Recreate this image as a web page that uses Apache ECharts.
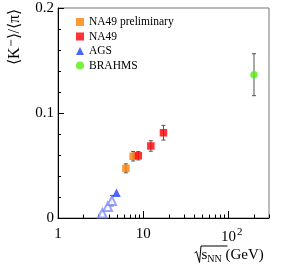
<!DOCTYPE html>
<html>
<head>
<meta charset="utf-8">
<script src="https://cdn.jsdelivr.net/npm/echarts@6/dist/echarts.min.js"></script>
<style>
html,body{margin:0;padding:0;background:#fff;}
#c{width:291px;height:273px;}
</style>
</head>
<body>
<div id="c"></div>
<script>
// ---- data ----
const na49PrelimX = [6.27, 7.62];
const na49PrelimY = [0.0473, 0.0588];
const na49PrelimErr = [0.0043, 0.0045];

const na49X = [8.77, 12.3, 17.3];
const na49Y = [0.0593, 0.0686, 0.0812];
const na49Err = [0.004, 0.005, 0.007];

const agsX = [4.86];
const agsY = [0.024];

const agsOpenX = [3.32, 3.84, 4.29];
const agsOpenY = [0.0045, 0.0108, 0.0165];
const agsOpenErr = [0, 0, 0.005];

const brahmsX = [200];
const brahmsY = [0.1365];
const brahmsErr = [0.02];

const xMajorTicks = [1, 10, 100];
const xMinorTicks = [2, 3, 4, 5, 6, 7, 8, 9, 20, 30, 40, 50, 60, 70, 80, 90, 200, 300];
const yTicks = [0, 0.1, 0.2];

const pts = (xs, ys) => xs.map((x, i) => [x, ys[i]]);
const errs = (xs, ys, es) => xs.map((x, i) => [x, ys[i] - es[i], ys[i] + es[i]]).filter((d, i) => es[i] > 0);

const FONT = 'Liberation Serif';

function errRender(capW) {
  return function (params, api) {
    const x = api.value(0), lo = api.value(1), hi = api.value(2);
    const p1 = api.coord([x, lo]);
    const p2 = api.coord([x, hi]);
    const st = { stroke: '#555', lineWidth: 1 };
    return {
      type: 'group',
      children: [
        { type: 'line', shape: { x1: p1[0], y1: p1[1], x2: p2[0], y2: p2[1] }, style: st },
        { type: 'line', shape: { x1: p1[0] - capW, y1: p1[1], x2: p1[0] + capW, y2: p1[1] }, style: st },
        { type: 'line', shape: { x1: p2[0] - capW, y1: p2[1], x2: p2[0] + capW, y2: p2[1] }, style: st }
      ]
    };
  };
}

const chart = echarts.init(document.getElementById('c'), null, { renderer: 'canvas' });

const allErr = []
  .concat(errs(na49PrelimX, na49PrelimY, na49PrelimErr))
  .concat(errs(na49X, na49Y, na49Err))
  .concat(errs(agsOpenX, agsOpenY, agsOpenErr))
  .concat(errs(brahmsX, brahmsY, brahmsErr));

chart.setOption({
  animation: false,
  textStyle: { fontFamily: FONT },
  grid: { left: 58, right: 22, top: 8, bottom: 55, show: true, borderColor: '#777', borderWidth: 1 },
  legend: {
    orient: 'vertical', left: 71, top: 11,
    itemWidth: 8, itemHeight: 8, itemGap: 2.5,
    data: ['NA49 preliminary', 'NA49', 'AGS', 'BRAHMS'],
    textStyle: { fontFamily: FONT, fontSize: 11.5, color: '#000' }
  },
  xAxis: [
    {
      type: 'log', logBase: 10, min: 1, max: 300,
      axisLine: { show: true, lineStyle: { color: '#000', width: 1 } },
      axisTick: { show: true, inside: true, length: 7, customValues: xMajorTicks, lineStyle: { color: '#000' } },
      axisLabel: {
        customValues: xMajorTicks, margin: 9, color: '#000', fontFamily: FONT, fontSize: 15,
        formatter: function (v) {
          if (Math.abs(v - 100) < 1e-6) return '{pad|}{b|10}{sup|2}';
          return '{b|' + Math.round(v) + '}';
        },
        rich: {
          b: { fontFamily: FONT, fontSize: 15, color: '#000' },
          sup: { fontFamily: FONT, fontSize: 11, color: '#000', verticalAlign: 'bottom', padding: [0, 0, 9, 1] },
          pad: { width: 7 }
        }
      },
      splitLine: { show: false }
    },
    {
      type: 'log', logBase: 10, min: 1, max: 300, gridIndex: 0, position: 'bottom',
      axisLine: { show: false },
      axisTick: { show: true, inside: true, length: 3.5, customValues: xMinorTicks, lineStyle: { color: '#000' } },
      axisLabel: { show: false },
      splitLine: { show: false }
    }
  ],
  yAxis: {
    type: 'value', min: 0, max: 0.2, interval: 0.1,
    axisLine: { show: true, lineStyle: { color: '#000', width: 1 } },
    axisTick: { show: true, inside: true, length: 6, lineStyle: { color: '#000' } },
    minorTick: { show: true, splitNumber: 5, length: 3, lineStyle: { color: '#000' } },
    axisLabel: {
      margin: 4, color: '#000', fontFamily: FONT, fontSize: 15,
      formatter: function (v) { return v === 0 ? '0' : v.toFixed(1); }
    },
    splitLine: { show: false }
  },
  series: [
    {
      type: 'custom', name: 'err', renderItem: errRender(2), data: allErr, z: 1,
      encode: { x: 0, y: [1, 2] }, silent: true
    },
    {
      name: 'AGS open', type: 'scatter', symbol: 'emptyTriangle', symbolSize: 8.5,
      itemStyle: { color: '#7f8cff', borderColor: '#7f8cff', borderWidth: 1 },
      data: pts(agsOpenX, agsOpenY), z: 3
    },
    {
      name: 'NA49 preliminary', type: 'scatter', symbol: 'rect', symbolSize: 7.5,
      itemStyle: { color: '#ff8000' }, data: pts(na49PrelimX, na49PrelimY), z: 3
    },
    {
      name: 'NA49', type: 'scatter', symbol: 'rect', symbolSize: 7.5,
      itemStyle: { color: '#ff0000' }, data: pts(na49X, na49Y), z: 3
    },
    {
      name: 'AGS', type: 'scatter', symbol: 'triangle', symbolSize: 8.5,
      itemStyle: { color: '#1f3fff' }, data: pts(agsX, agsY), z: 3
    },
    {
      name: 'BRAHMS', type: 'scatter', symbol: 'circle', symbolSize: 7.5,
      itemStyle: { color: '#55ee11' }, data: pts(brahmsX, brahmsY), z: 3
    }
  ],
  graphic: [
    {
      type: 'text', x: 15, y: 37, rotation: Math.PI / 2,
      style: {
        text: '\u27E8K\u207B\u27E9/\u27E8\u03C0\u27E9', fontFamily: FONT, fontSize: 16, fill: '#000',
        align: 'center', verticalAlign: 'middle'
      }
    },
    {
      type: 'polyline',
      shape: { points: [[194.5, 253], [196.5, 251.5], [199.5, 262.5], [201, 246], [227.5, 246]] },
      style: { stroke: '#000', lineWidth: 1, fill: null }
    },
    {
      type: 'text', x: 201.5, y: 255,
      style: {
        text: '{s|s}{sub|NN}{g| (GeV)}', verticalAlign: 'middle', align: 'left',
        rich: {
          s: { fontFamily: FONT, fontSize: 15, fill: '#000' },
          sub: { fontFamily: FONT, fontSize: 10, fill: '#000', verticalAlign: 'top', padding: [9, 0, 0, 0] },
          g: { fontFamily: FONT, fontSize: 15, fill: '#000' }
        }
      }
    }
  ]
});
</script>
</body>
</html>
